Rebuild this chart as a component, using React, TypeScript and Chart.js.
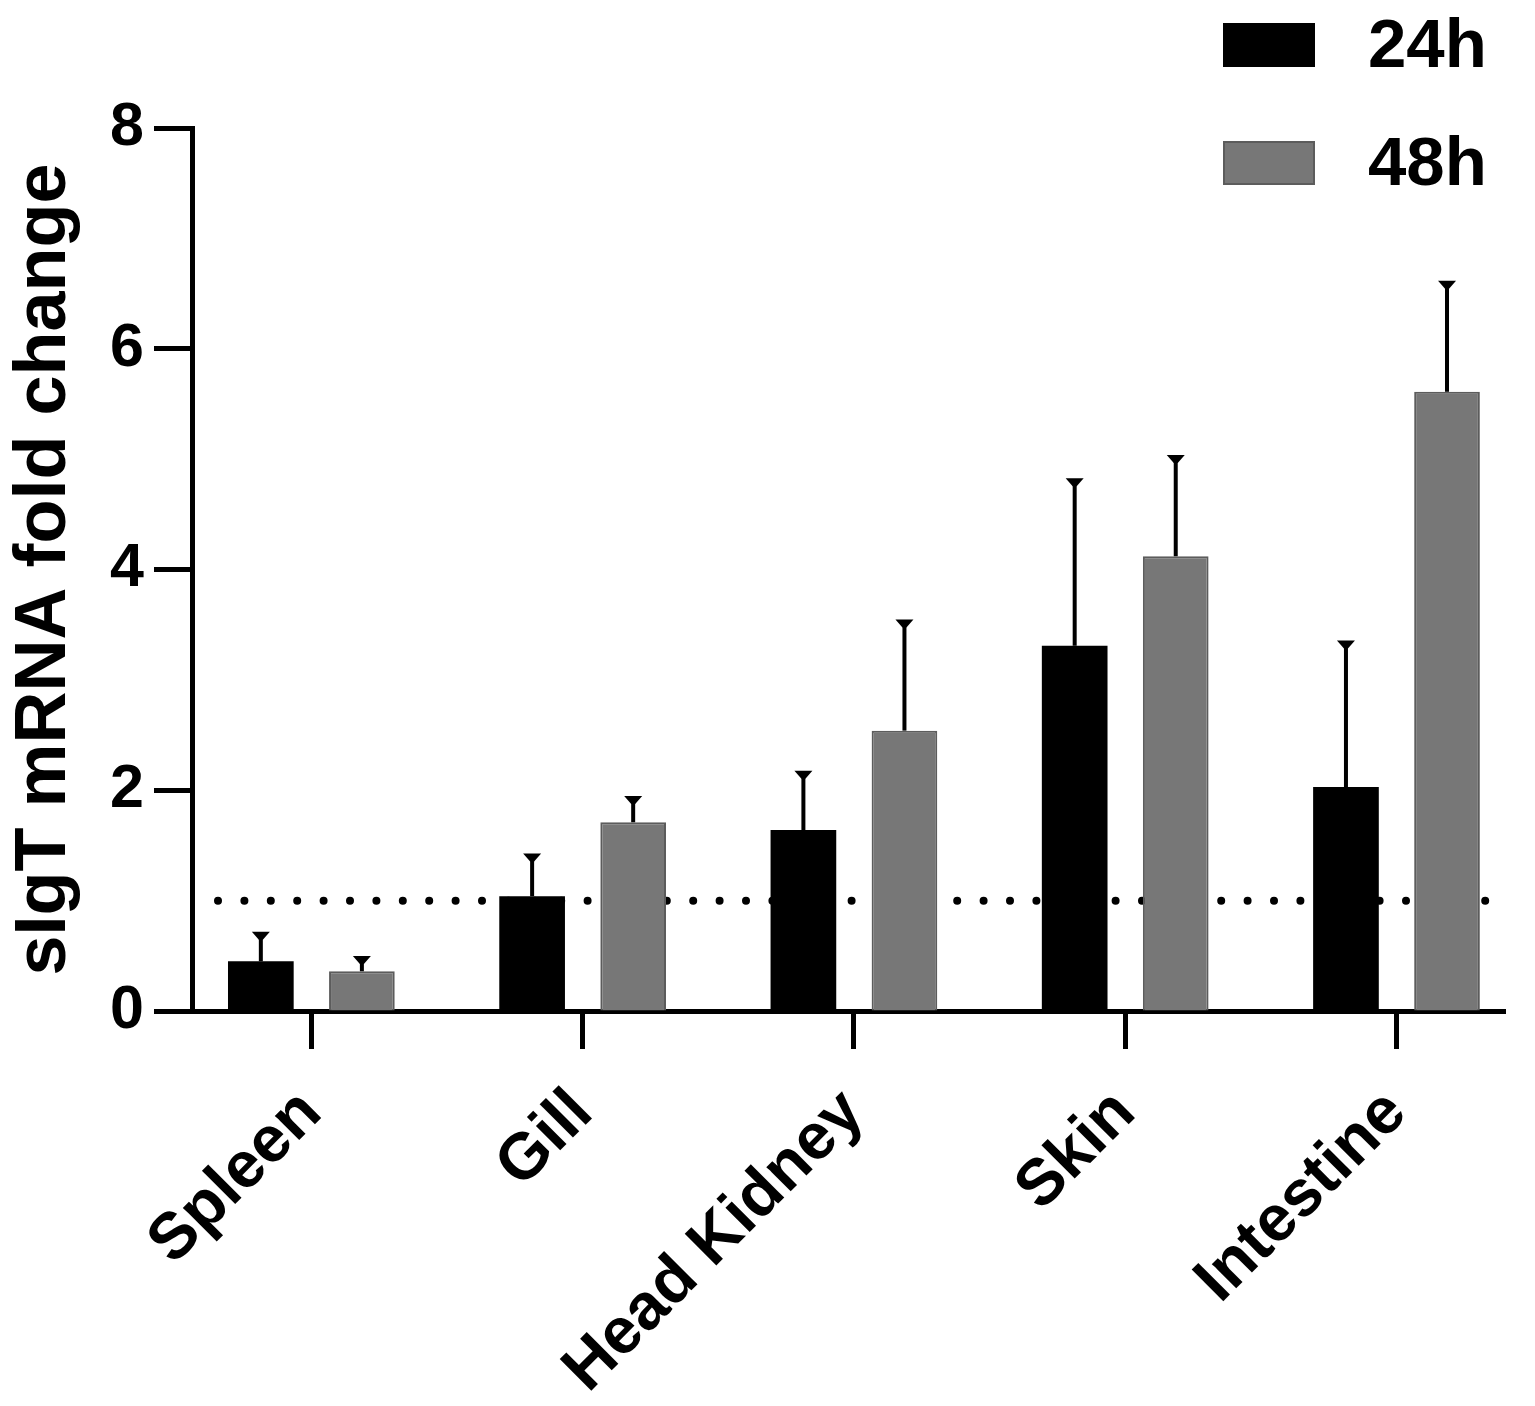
import React, { useEffect, useRef } from "react";
import { Chart, registerables } from "chart.js";

Chart.register(...registerables);

// values (mean and upper SD of fold change)
const TISSUES = ["Spleen", "Gill", "Head Kidney", "Skin", "Intestine"];
const MEAN_24H = [0.45, 1.04, 1.64, 3.31, 2.03];
const SD_24H = [0.24, 0.36, 0.51, 1.49, 1.3];
const MEAN_48H = [0.36, 1.71, 2.54, 4.12, 5.61];
const SD_48H = [0.11, 0.21, 0.98, 0.89, 0.98];
const Y_TICKS = [0, 2, 4, 6, 8];
const CONTROL_LEVEL = 1;

const FONT = "'Liberation Sans', Arial, Helvetica, sans-serif";
const W = 1535;
const H = 1406;

const errorBars = {
  id: "errorBars",
  afterDatasetsDraw(chart: any) {
    const { ctx } = chart;
    const y = chart.scales.y;
    ctx.save();
    ctx.strokeStyle = "#000";
    ctx.fillStyle = "#000";
    chart.data.datasets.forEach((ds: any, i: number) => {
      const meta = chart.getDatasetMeta(i);
      meta.data.forEach((bar: any, j: number) => {
        const top = y.getPixelForValue(ds.data[j].y + ds.errors[j]);
        ctx.lineWidth = 4;
        ctx.beginPath();
        ctx.moveTo(bar.x, bar.y);
        ctx.lineTo(bar.x, top);
        ctx.stroke();
        // little wedge-shaped cap
        ctx.beginPath();
        ctx.moveTo(bar.x - 9, top - 3);
        ctx.lineTo(bar.x + 9, top - 3);
        ctx.lineTo(bar.x + 2, top + 5);
        ctx.lineTo(bar.x - 2, top + 5);
        ctx.closePath();
        ctx.fill();
      });
    });
    ctx.restore();
  },
};

const controlLine = {
  id: "controlLine",
  beforeDatasetsDraw(chart: any) {
    const { ctx, chartArea } = chart;
    const yPix = chart.scales.y.getPixelForValue(CONTROL_LEVEL);
    ctx.save();
    ctx.strokeStyle = "#000";
    ctx.lineWidth = 8;
    ctx.lineCap = "round";
    ctx.setLineDash([0, 26.4]);
    ctx.beginPath();
    ctx.moveTo(chartArea.left + 26, yPix);
    ctx.lineTo(chartArea.right - 14, yPix);
    ctx.stroke();
    ctx.restore();
  },
};

const boxLegend = {
  id: "boxLegend",
  afterDraw(chart: any) {
    const { ctx } = chart;
    ctx.save();
    ctx.font = `bold 69px ${FONT}`;
    ctx.textBaseline = "middle";
    ctx.textAlign = "left";
    chart.data.datasets.forEach((ds: any, i: number) => {
      const cy = 45 + i * 118;
      ctx.fillStyle = ds.backgroundColor;
      ctx.fillRect(1223, cy - 22, 92, 44);
      ctx.strokeStyle = ds.borderColor;
      ctx.lineWidth = 2;
      ctx.strokeRect(1224, cy - 21, 90, 42);
      ctx.fillStyle = "#000";
      ctx.fillText(ds.label, 1368, cy + 3);
    });
    ctx.restore();
  },
};

const FoldChangeChart = () => {
  const canvasRef = useRef<HTMLCanvasElement>(null);

  useEffect(() => {
    const chart = new Chart(canvasRef.current as HTMLCanvasElement, {
      type: "bar",
      data: {
        datasets: [
          {
            label: "24h",
            data: MEAN_24H.map((v, i) => ({ x: i, y: v })),
            errors: SD_24H,
            backgroundColor: "#000000",
            borderColor: "#000000",
            borderWidth: 0,
          } as any,
          {
            label: "48h",
            data: MEAN_48H.map((v, i) => ({ x: i, y: v })),
            errors: SD_48H,
            backgroundColor: "#777777",
            borderColor: "#5c5c5c",
            borderWidth: 2,
          } as any,
        ],
      },
      options: {
        animation: false,
        responsive: false,
        devicePixelRatio: 1,
        categoryPercentage: 0.745,
        barPercentage: 0.65,
        layout: { padding: { top: 128, right: 30, left: 0, bottom: 0 } },
        plugins: {
          legend: { display: false },
          tooltip: { enabled: false },
        },
        scales: {
          x: {
            type: "linear",
            min: -0.44,
            max: 4.4,
            offset: false,
            afterBuildTicks: (scale: any) => {
              scale.ticks = TISSUES.map((_, i) => ({ value: i }));
            },
            afterFit: (scale: any) => {
              scale.height = 395;
            },
            ticks: {
              autoSkip: false,
              maxRotation: 45,
              minRotation: 45,
              padding: 26,
              color: "#000",
              font: { family: FONT, size: 65, weight: "bold" },
              callback: (v: any) => TISSUES[v],
            },
            grid: {
              offset: false,
              drawOnChartArea: false,
              drawTicks: true,
              tickLength: 38,
              tickWidth: 5,
              color: "#000",
            },
            border: { color: "#000", width: 5 },
          },
          y: {
            min: 0,
            max: 8,
            afterBuildTicks: (scale: any) => {
              scale.ticks = Y_TICKS.map((v) => ({ value: v }));
            },
            afterFit: (scale: any) => {
              scale.width = 192;
            },
            ticks: {
              padding: 10,
              color: "#000",
              font: { family: FONT, size: 61, weight: "bold" },
            },
            grid: {
              drawOnChartArea: false,
              drawTicks: true,
              tickLength: 38,
              tickWidth: 5,
              color: "#000",
            },
            border: { color: "#000", width: 5 },
            title: {
              display: true,
              text: "sIgT mRNA fold change",
              color: "#000",
              padding: { top: 9, bottom: 0 },
              font: { family: FONT, size: 72, weight: "bold", lineHeight: 1 },
            },
          },
        },
      },
      plugins: [controlLine, errorBars, boxLegend],
    } as any);

    return () => {
      chart.destroy();
    };
  }, []);

  return <canvas ref={canvasRef} width={W} height={H} style={{ display: "block" }} />;
};

export default function App() {
  return (
    <div style={{ position: "absolute", left: 0, top: 0, width: W, height: H, background: "#fff" }}>
      <FoldChangeChart />
    </div>
  );
}
